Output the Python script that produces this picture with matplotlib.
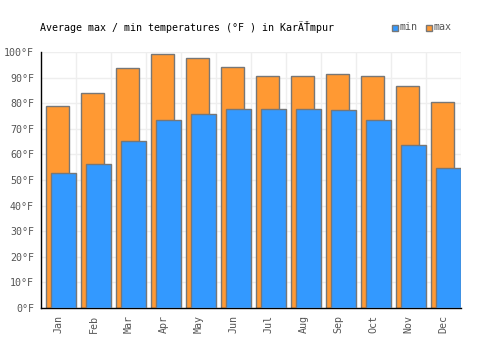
import matplotlib
matplotlib.use("Agg")
import matplotlib.pyplot as plt
import numpy as np

# data
months = ["Jan", "Feb", "Mar", "Apr", "May", "Jun", "Jul", "Aug", "Sep", "Oct", "Nov", "Dec"]
t_max = [78.8, 84.2, 93.7, 99.2, 97.7, 94.1, 90.6, 90.6, 91.3, 90.5, 86.6, 80.7]
t_min = [52.6, 56.1, 65.2, 73.4, 75.8, 77.7, 77.7, 77.7, 77.2, 73.3, 63.9, 54.6]
yticks = list(range(0, 101, 10))

ORANGE = "#ff9933"; BLUE = "#3399ff"; EDGE = "#777777"; GRID = "#eeeeee"; TXT = "#555555"
FONT = "DejaVu Sans Mono"

fig = plt.figure(figsize=(5, 3.5), dpi=100, facecolor="white")
ax = fig.add_axes([0.082, 0.12, 0.84, 0.731])
x = np.arange(len(months))

ax.bar(x - 0.357, t_max, width=0.671, align="edge", color=ORANGE, edgecolor=EDGE, lw=1, zorder=2)
ax.bar(x - 0.209, t_min, width=0.70, align="edge", color=BLUE, edgecolor=EDGE, lw=1, zorder=3)

ax.set_xlim(-0.5, 11.5)
ax.set_ylim(0, 100)
for v in x + 0.5:
    ax.axvline(v, color=GRID, lw=1, zorder=0)
for v in yticks[1:]:
    ax.axhline(v, color=GRID, lw=1, zorder=0)

ax.set_yticks(yticks)
ax.set_yticklabels([f"{v}°F" for v in yticks], family=FONT, fontsize=7.2, color=TXT)
ax.set_xticks(x)
ax.set_xticklabels(months, rotation=90, family=FONT, fontsize=7.2, color=TXT)
ax.tick_params(length=0, pad=5)
for s in ("top", "right"):
    ax.spines[s].set_visible(False)
for s in ("left", "bottom"):
    ax.spines[s].set_color("black")
    ax.spines[s].set_linewidth(1)

fig.text(0.08, 0.922, "Average max / min temperatures (°F ) in KarÄŤmpur",
         family=FONT, fontsize=7.2, color="black", va="center")

# legend
fig.patches.append(plt.Rectangle((392 / 500, 1 - 31 / 350), 6 / 500, 6 / 350, transform=fig.transFigure,
                                 facecolor=BLUE, edgecolor=EDGE, lw=1))
fig.text(400 / 500, 1 - 27.5 / 350, "min", family=FONT, fontsize=7.2, color=TXT, va="center")
fig.patches.append(plt.Rectangle((426 / 500, 1 - 31 / 350), 6 / 500, 6 / 350, transform=fig.transFigure,
                                 facecolor=ORANGE, edgecolor=EDGE, lw=1))
fig.text(434 / 500, 1 - 27.5 / 350, "max", family=FONT, fontsize=7.2, color=TXT, va="center")

fig.savefig("out.png", dpi=100, facecolor="white")
